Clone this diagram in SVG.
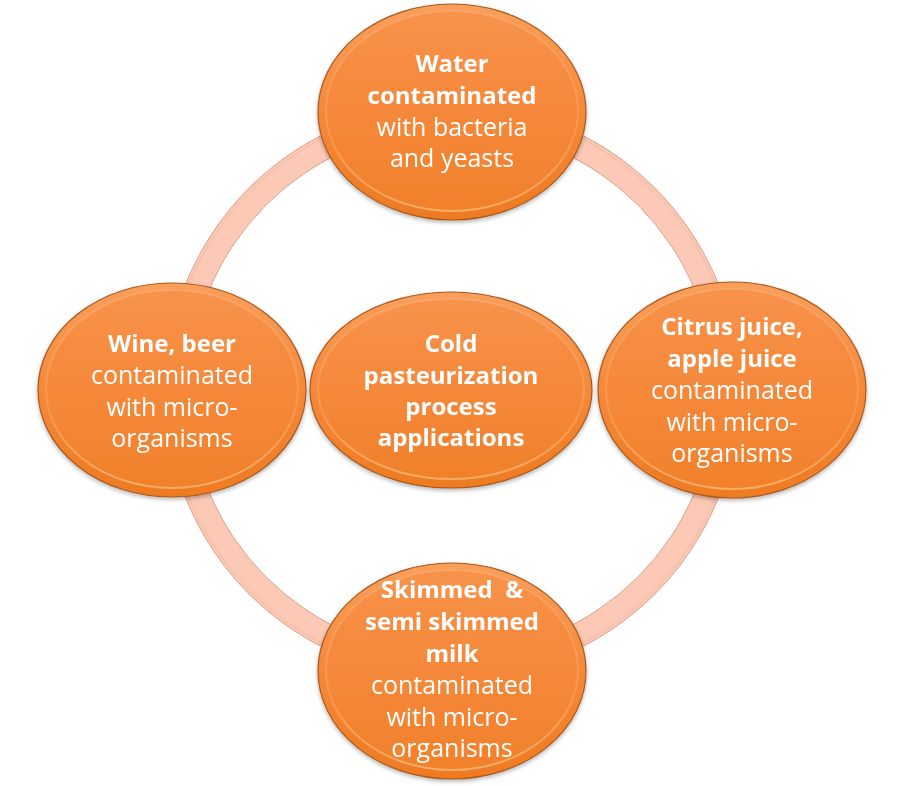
<svg xmlns="http://www.w3.org/2000/svg" width="905" height="786" viewBox="0 0 905 786">
  <defs>
    <linearGradient id="gFill" x1="0" y1="0" x2="0" y2="1">
      <stop offset="0" stop-color="#F99F5C"/>
      <stop offset="0.5" stop-color="#F58939"/>
      <stop offset="1" stop-color="#EE7A22"/>
    </linearGradient>
    <linearGradient id="gInner" x1="0" y1="0" x2="0" y2="1">
      <stop offset="0" stop-color="#F8924A"/>
      <stop offset="0.5" stop-color="#F5883A"/>
      <stop offset="1" stop-color="#F1812B"/>
    </linearGradient>
    <linearGradient id="gRim" x1="0" y1="0" x2="0" y2="1">
      <stop offset="0" stop-color="#FFFFFF" stop-opacity="0.12"/>
      <stop offset="0.6" stop-color="#FFD9A8" stop-opacity="0.2"/>
      <stop offset="1" stop-color="#FFE3B0" stop-opacity="0.45"/>
    </linearGradient>
    <filter id="shadow" x="-10%" y="-10%" width="120%" height="125%">
      <feGaussianBlur in="SourceAlpha" stdDeviation="2"/>
      <feOffset dx="0" dy="2" result="b"/>
      <feComponentTransfer><feFuncA type="linear" slope="0.3"/></feComponentTransfer>
      <feMerge><feMergeNode/><feMergeNode in="SourceGraphic"/></feMerge>
    </filter>
  </defs>
  <style>
    .outer { fill: url(#gFill); stroke: #A9581C; stroke-width: 1.2; }
    .inner { fill: url(#gInner); stroke: url(#gRim); stroke-width: 2; }
    .t { font-family: "Open Sans", "Liberation Sans", sans-serif; fill: #FFFFFF; text-anchor: middle; font-size: 25px; }
    .b { font-weight: 700; font-size: 24px; }
    .ring { fill: none; stroke: #FBC9B5; stroke-width: 24; }
    .ringEdge { fill: none; stroke: #D9A08B; stroke-width: 1; }
    .ringHi { fill: none; stroke: #F2B8A2; stroke-width: 1; }
  </style>

  <g id="connectors">
    <circle class="ring" cx="452" cy="391" r="275"/>
    <circle class="ringEdge" cx="452" cy="391" r="287"/>
    <circle class="ringEdge" cx="452" cy="391" r="263"/>
    <circle class="ringHi" cx="452" cy="391" r="284"/>
  </g>

  <g id="node-top" filter="url(#shadow)">
    <ellipse class="outer" cx="452" cy="112" rx="134" ry="108"/>
    <ellipse class="inner" cx="452" cy="111" rx="126" ry="100"/>
    <text class="t b" x="452" y="72">Water</text>
    <text class="t b" x="452" y="104">contaminated</text>
    <text class="t" x="452" y="136">with bacteria</text>
    <text class="t" x="452" y="167">and yeasts</text>
  </g>

  <g id="node-left" filter="url(#shadow)">
    <ellipse class="outer" cx="172" cy="390" rx="134" ry="107"/>
    <ellipse class="inner" cx="172" cy="389" rx="126" ry="99"/>
    <text class="t b" x="172" y="352">Wine, beer</text>
    <text class="t" x="172" y="384">contaminated</text>
    <text class="t" x="172" y="416">with micro-</text>
    <text class="t" x="172" y="447">organisms</text>
  </g>

  <g id="node-center" filter="url(#shadow)">
    <ellipse class="outer" cx="451" cy="390" rx="141" ry="98"/>
    <ellipse class="inner" cx="451" cy="389" rx="133" ry="90"/>
    <text class="t b" x="451" y="352">Cold</text>
    <text class="t b" x="451" y="384">pasteurization</text>
    <text class="t b" x="451" y="415">process</text>
    <text class="t b" x="451" y="446">applications</text>
  </g>

  <g id="node-right" filter="url(#shadow)">
    <ellipse class="outer" cx="732" cy="390" rx="134" ry="108"/>
    <ellipse class="inner" cx="732" cy="389" rx="126" ry="100"/>
    <text class="t b" x="732" y="335">Citrus juice,</text>
    <text class="t b" x="732" y="367">apple juice</text>
    <text class="t" x="732" y="399">contaminated</text>
    <text class="t" x="732" y="431">with micro-</text>
    <text class="t" x="732" y="462">organisms</text>
  </g>

  <g id="node-bottom" filter="url(#shadow)">
    <ellipse class="outer" cx="452" cy="671" rx="134" ry="108"/>
    <ellipse class="inner" cx="452" cy="670" rx="126" ry="100"/>
    <text class="t b" x="452" y="598" xml:space="preserve">Skimmed  &amp;</text>
    <text class="t b" x="452" y="630">semi skimmed</text>
    <text class="t b" x="452" y="662">milk</text>
    <text class="t" x="452" y="694">contaminated</text>
    <text class="t" x="452" y="726">with micro-</text>
    <text class="t" x="452" y="757">organisms</text>
  </g>
</svg>
